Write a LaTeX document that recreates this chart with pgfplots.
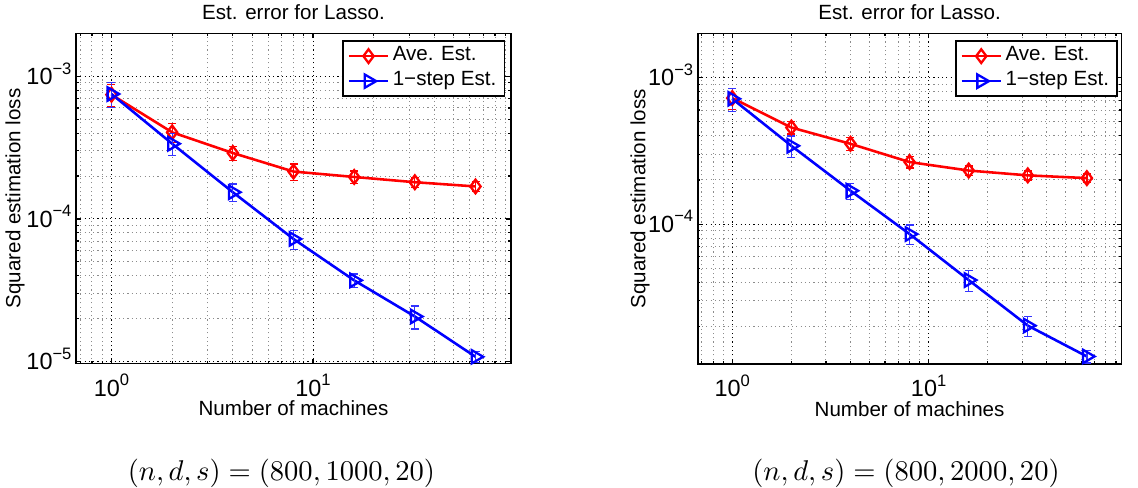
\documentclass[border=0pt]{standalone}
\usepackage[no-math]{fontspec}
\setmainfont{Liberation Sans}
\usepackage{pgfplots}
\usepackage{pgfplotstable}
\pgfplotsset{compat=1.18}

\newcommand{\tlab}[1]{10\raisebox{0.45em}{\fontsize{5.8}{6}\selectfont #1}}

\pgfplotstableread{
x y e
1 7.44e-4 1.3e-4
2 4.05e-4 6.0e-5
4 2.90e-4 3.4e-5
8 2.15e-4 2.8e-5
16 1.97e-4 2.0e-5
32 1.81e-4 1.5e-5
64 1.69e-4 1.4e-5
}\tabLR
\pgfplotstableread{
x y e
1 7.52e-4 1.5e-4
2 3.37e-4 6.0e-5
4 1.54e-4 2.2e-5
8 7.24e-5 1.1e-5
16 3.71e-5 4.0e-6
32 2.07e-5 3.8e-6
64 1.08e-5 0.9e-6
}\tabLB
\pgfplotstableread{
x y e
1 7.24e-4 1.2e-4
2 4.56e-4 4.5e-5
4 3.53e-4 3.6e-5
8 2.65e-4 2.4e-5
16 2.32e-4 1.7e-5
32 2.15e-4 1.5e-5
64 2.06e-4 1.4e-5
}\tabRR
\pgfplotstableread{
x y e
1 7.16e-4 1.3e-4
2 3.42e-4 5.8e-5
4 1.69e-4 2.1e-5
8 8.55e-5 1.3e-5
16 4.15e-5 7.0e-6
32 2.03e-5 3.2e-6
64 1.25e-5 1.2e-6
}\tabRB

\begin{document}
\begin{tikzpicture}
\path[use as bounding box] (0pt,0pt) rectangle (398.3pt,170.8pt);

\begin{axis}[
  xmode=log, ymode=log, scale only axis,
  at={(26.6pt,43.6pt)}, anchor=south west,
  width=152.25pt, height=115.5pt,
  xmin=0.6667, xmax=96, ymin=9.7e-6, ymax=2e-3,
  xtick={1,10}, xticklabels={\tlab{0},\tlab{1}},
  minor xtick={0.7,0.8,0.9,2,3,4,5,6,7,8,9,20,30,40,50,60,70,80,90},
  ytick={1e-5,1e-4,1e-3}, yticklabels={\tlab{−5},\tlab{−4},\tlab{−3}},
  minor ytick={2e-5,3e-5,4e-5,5e-5,6e-5,7e-5,8e-5,9e-5,2e-4,3e-4,4e-4,5e-4,6e-4,7e-4,8e-4,9e-4,2e-3},
  grid=both,
  major grid style={black, line width=0.35pt, dash pattern=on 0.4pt off 1.1pt},
  minor grid style={black!45, line width=0.35pt, dash pattern=on 0.4pt off 1.1pt},
  axis line style={line width=0.55pt},
  tick align=inside,
  tick style={black, line width=0.4pt},
  major tick length=1.6pt, minor tick length=0.9pt,
  tick label style={font=\fontsize{8.2}{9}\selectfont},
  xticklabel style={anchor=center, yshift=-7.6pt},
  yticklabel style={anchor=base east, inner sep=0pt, xshift=-1.4pt, yshift=-2.9pt},
  title style={at={(axis description cs:0.5,1.064)}, anchor=center, yshift=-6pt, font=\fontsize{7.2}{8.6}\selectfont},
  xlabel style={at={(axis description cs:0.5,-0.136)}, anchor=center, font=\fontsize{7.2}{8.6}\selectfont},
  ylabel style={at={(axis description cs:-0.140,0.5)}, anchor=center, font=\fontsize{7.2}{8.6}\selectfont},
  title={Est. error for Lasso.},
  xlabel={Number of machines},
  ylabel={Squared estimation loss},
  legend image code/.code={\draw[mark repeat=2,mark phase=2,#1] plot coordinates {(0pt,0pt) (6.85pt,0pt) (13.7pt,0pt)};},
  legend style={draw=black, line width=0.5pt, fill=white,
    font=\fontsize{7.2}{8.6}\selectfont,
    inner xsep=1.6pt, inner ysep=1pt, row sep=0.25pt,
    nodes={inner xsep=1.2pt, inner ysep=0.4pt, text height=5.5pt, text depth=2.2pt},
    at={(axis description cs:1,1)}, anchor=north east, xshift=-2.1pt, yshift=-2.45pt},
  legend cell align=left,
]
\addplot[color=red, line width=0.9pt, mark=diamond, mark size=2.4pt,
    mark options={solid, line width=0.8pt},
    error bars/.cd, y dir=both, y explicit,
    error bar style={line width=0.45pt, color=red},
    error mark options={rotate=90, mark size=1.4pt, line width=0.45pt, color=red}]
  table[x=x, y=y, y error=e] {\tabLR};
\addlegendentry{Ave. Est.}
\addplot[color=blue, line width=0.9pt, mark=triangle, mark size=2.7pt,
    mark options={solid, rotate=-90, line width=0.8pt},
    error bars/.cd, y dir=both, y explicit,
    error bar style={line width=0.45pt, color=blue!80},
    error mark options={rotate=90, mark size=1.4pt, line width=0.45pt, color=blue!80}]
  table[x=x, y=y, y error=e] {\tabLB};
\addlegendentry{1−step Est.}
\end{axis}

\begin{axis}[
  xmode=log, ymode=log, scale only axis,
  at={(244.2pt,43.4pt)}, anchor=south west,
  width=148.3pt, height=115.7pt,
  xmin=0.6667, xmax=96, ymin=1.11e-5, ymax=2e-3,
  xtick={1,10}, xticklabels={\tlab{0},\tlab{1}},
  minor xtick={0.7,0.8,0.9,2,3,4,5,6,7,8,9,20,30,40,50,60,70,80,90},
  ytick={1e-4,1e-3}, yticklabels={\tlab{−4},\tlab{−3}},
  minor ytick={2e-5,3e-5,4e-5,5e-5,6e-5,7e-5,8e-5,9e-5,2e-4,3e-4,4e-4,5e-4,6e-4,7e-4,8e-4,9e-4,2e-3},
  grid=both,
  major grid style={black, line width=0.35pt, dash pattern=on 0.4pt off 1.1pt},
  minor grid style={black!45, line width=0.35pt, dash pattern=on 0.4pt off 1.1pt},
  axis line style={line width=0.55pt},
  tick align=inside,
  tick style={black, line width=0.4pt},
  major tick length=1.6pt, minor tick length=0.9pt,
  tick label style={font=\fontsize{8.2}{9}\selectfont},
  xticklabel style={anchor=center, yshift=-7.6pt},
  yticklabel style={anchor=base east, inner sep=0pt, xshift=-1.4pt, yshift=-2.9pt},
  title style={at={(axis description cs:0.5,1.064)}, anchor=center, yshift=-6pt, font=\fontsize{7.2}{8.6}\selectfont},
  xlabel style={at={(axis description cs:0.5,-0.136)}, anchor=center, font=\fontsize{7.2}{8.6}\selectfont},
  ylabel style={at={(axis description cs:-0.136,0.5)}, anchor=center, font=\fontsize{7.2}{8.6}\selectfont},
  title={Est. error for Lasso.},
  xlabel={Number of machines},
  ylabel={Squared estimation loss},
  legend image code/.code={\draw[mark repeat=2,mark phase=2,#1] plot coordinates {(0pt,0pt) (6.85pt,0pt) (13.7pt,0pt)};},
  legend style={draw=black, line width=0.5pt, fill=white,
    font=\fontsize{7.2}{8.6}\selectfont,
    inner xsep=1.6pt, inner ysep=1pt, row sep=0.25pt,
    nodes={inner xsep=1.2pt, inner ysep=0.4pt, text height=5.5pt, text depth=2.2pt},
    at={(axis description cs:1,1)}, anchor=north east, xshift=-1.3pt, yshift=-2.45pt},
  legend cell align=left,
]
\addplot[color=red, line width=0.9pt, mark=diamond, mark size=2.4pt,
    mark options={solid, line width=0.8pt},
    error bars/.cd, y dir=both, y explicit,
    error bar style={line width=0.45pt, color=red},
    error mark options={rotate=90, mark size=1.4pt, line width=0.45pt, color=red}]
  table[x=x, y=y, y error=e] {\tabRR};
\addlegendentry{Ave. Est.}
\addplot[color=blue, line width=0.9pt, mark=triangle, mark size=2.7pt,
    mark options={solid, rotate=-90, line width=0.8pt},
    error bars/.cd, y dir=both, y explicit,
    error bar style={line width=0.45pt, color=blue!80},
    error mark options={rotate=90, mark size=1.4pt, line width=0.45pt, color=blue!80}]
  table[x=x, y=y, y error=e] {\tabRB};
\addlegendentry{1−step Est.}
\end{axis}

\node at (98.5pt,5.0pt) {$(n,d,s) = (800,1000,20)$};
\node at (317.1pt,5.0pt) {$(n,d,s) = (800,2000,20)$};
\end{tikzpicture}
\end{document}
